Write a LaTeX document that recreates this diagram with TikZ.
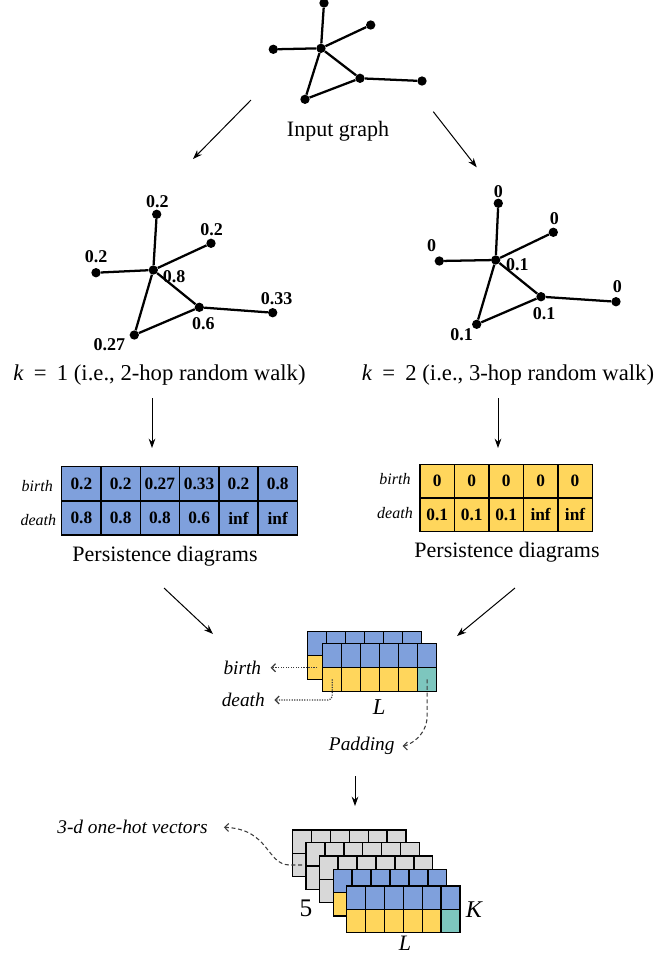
\documentclass[tikz,border=0pt]{standalone}
\usepackage{fontspec}
\setmainfont{Liberation Serif}
\usetikzlibrary{arrows.meta}
\definecolor{cblue}{RGB}{127,160,220}
\definecolor{cyel}{RGB}{255,214,92}
\definecolor{cteal}{RGB}{125,198,190}
\definecolor{cgray}{RGB}{216,216,216}
\definecolor{cdash}{RGB}{60,60,60}
\begin{document}
\begin{tikzpicture}[x=0.75pt,y=-0.75pt,
  vert/.style={circle,fill=black,inner sep=0pt,minimum size=7pt},
  gedge/.style={line width=1.7pt},
  vlab/.style={font=\fontsize{13.5}{15}\selectfont\bfseries,inner sep=0pt},
  flow/.style={-{Stealth[length=7pt,width=5pt]},line width=0.75pt},
  capt/.style={font=\fontsize{16.5}{19}\selectfont,inner sep=0pt},
  kcapt/.style={font=\fontsize{17}{19}\selectfont,inner sep=0pt},
  rowlab/.style={font=\fontsize{12}{14}\selectfont\itshape,inner sep=0pt},
  itlab/.style={font=\fontsize{14.5}{17}\selectfont\itshape,inner sep=0pt},
  cellA/.style={draw,line width=1.1pt,minimum width=29.45pt,minimum height=25.5pt,inner sep=0pt,font=\fontsize{13}{15}\selectfont\bfseries},
  cellB/.style={cellA,minimum width=25.85pt,minimum height=25.1pt},
  mcell/.style={draw,line width=1.1pt,minimum width=14.25pt,minimum height=18pt,inner sep=0pt},
  bcell/.style={draw,line width=1.1pt,minimum width=14.17pt,minimum height=17.5pt,inner sep=0pt},
  dotconn/.style={densely dotted,line width=0.9pt,color=cdash,-{Straight Barb[length=3pt,width=6pt]}},
  dashconn/.style={dash pattern=on 3pt off 2pt,line width=0.8pt,color=cdash,-{Straight Barb[length=3pt,width=6pt]}},
]
\useasboundingbox (0,0) rectangle (663,958);

% ---------- input graph ----------
\node[vert] (T0) at (321,48.3) {};
\node[vert] (T1) at (324,3) {};
\node[vert] (T2) at (370.7,25) {};
\node[vert] (T3) at (273.3,49.3) {};
\node[vert] (T4) at (360,78.3) {};
\node[vert] (T5) at (422,81) {};
\node[vert] (T6) at (305,99.3) {};
\draw[gedge] (T0)--(T1) (T0)--(T2) (T0)--(T3) (T0)--(T4) (T0)--(T6) (T6)--(T4) (T4)--(T5);
\node[capt] (inlab) at (338,131.7) {Input graph};

% ---------- left graph ----------
\node[vert] (L0) at (153.3,270) {};
\node[vert] (L1) at (156.7,214.3) {};
\node[vert] (L2) at (211,243.3) {};
\node[vert] (L3) at (96,272.7) {};
\node[vert] (L4) at (199.3,307.3) {};
\node[vert] (L5) at (272.7,312.7) {};
\node[vert] (L6) at (134.3,335) {};
\draw[gedge] (L0)--(L1) (L0)--(L2) (L0)--(L3) (L0)--(L4) (L0)--(L6) (L6)--(L4) (L4)--(L5);
\node[vlab] (l1) at (157.3,202) {0.2};
\node[vlab] (l2) at (211.7,230) {0.2};
\node[vlab] (l3) at (96,256.7) {0.2};
\node[vlab] (l0) at (174,276.7) {0.8};
\node[vlab] (l4) at (203.3,323.3) {0.6};
\node[vlab] (l5) at (276.7,298.3) {0.33};
\node[vlab] (l6) at (109.3,344.3) {0.27};
\node[kcapt] (k1) at (159.5,375) {\textit{k}\hspace{0.45em}=\hspace{0.45em}1 (i.e., 2-hop random walk)};

% ---------- right graph ----------
\node[vert] (R0) at (495.7,260) {};
\node[vert] (R1) at (498.3,203.3) {};
\node[vert] (R2) at (553.3,232.3) {};
\node[vert] (R3) at (439.3,261) {};
\node[vert] (R4) at (541,296.7) {};
\node[vert] (R5) at (616,301.7) {};
\node[vert] (R6) at (476.7,324.3) {};
\draw[gedge] (R0)--(R1) (R0)--(R2) (R0)--(R3) (R0)--(R4) (R0)--(R6) (R6)--(R4) (R4)--(R5);
\node[vlab] (r1) at (498.3,191.7) {0};
\node[vlab] (r2) at (554.3,218.3) {0};
\node[vlab] (r3) at (431.7,246) {0};
\node[vlab] (r0) at (517.3,265) {0.1};
\node[vlab] (r4) at (544,313.3) {0.1};
\node[vlab] (r5) at (617.3,286.7) {0};
\node[vlab] (r6) at (461.7,335) {0.1};
\node[kcapt] (k2) at (508,375) {\textit{k}\hspace{0.45em}=\hspace{0.45em}2 (i.e., 3-hop random walk)};

% ---------- top arrows ----------
\coordinate (a1s) at (251,100); \coordinate (a1e) at (193,159);
\coordinate (a2s) at (433.3,111.7); \coordinate (a2e) at (476.7,167.3);
\draw[flow] (a1s) -- (a1e);
\draw[flow] (a2s) -- (a2e);
\coordinate (a3s) at (152,398); \coordinate (a3e) at (152,448);
\coordinate (a4s) at (498,398); \coordinate (a4e) at (498,448);
\draw[flow] (a3s) -- (a3e);
\draw[flow] (a4s) -- (a4e);

% ---------- left table ----------
\foreach \v [count=\i] in {0.2,0.2,0.27,0.33,0.2,0.8}
  \node[cellA,fill=cblue] (LB\i) at ({61.7+39.27*(\i-0.5)},483.7) {\v};
\foreach \v [count=\i] in {0.8,0.8,0.8,0.6,inf,inf}
  \node[cellA,fill=cblue] (LD\i) at ({61.7+39.27*(\i-0.5)},517.9) {\v};
\node[rowlab] (lbirth) at (37.3,485.7) {birth};
\node[rowlab] (ldeath) at (38.3,520) {death};
\node[capt] (lpd) at (165,556.7) {Persistence diagrams};

% ---------- right table ----------
\foreach \v [count=\i] in {0,0,0,0,0}
  \node[cellB,fill=cyel] (RB\i) at ({420+34.46*(\i-0.5)},481.1) {\v};
\foreach \v [count=\i] in {0.1,0.1,0.1,inf,inf}
  \node[cellB,fill=cyel] (RD\i) at ({420+34.46*(\i-0.5)},514.7) {\v};
\node[rowlab] (rbirth) at (395,479.3) {birth};
\node[rowlab] (rdeath) at (395,512.7) {death};
\node[capt] (rpd) at (507,552) {Persistence diagrams};

% ---------- arrows to middle ----------
\coordinate (a5s) at (164,588); \coordinate (a5e) at (213,634);
\coordinate (a6s) at (515,588); \coordinate (a6e) at (457,636);
\draw[flow] (a5s) -- (a5e);
\draw[flow] (a6s) -- (a6e);

% ---------- middle stack ----------
\foreach \c in {1,...,6}
  \node[mcell,fill=cblue] (mb-t\c) at ({307.7+19*(\c-0.5)},643.7) {};
\foreach \c in {1,...,5}
  \node[mcell,fill=cyel] (mb-b\c) at ({307.7+19*(\c-0.5)},667.7) {};
\node[mcell,fill=cteal] (mb-b6) at ({307.7+19*5.5},667.7) {};
\foreach \c in {1,...,6}
  \node[mcell,fill=cblue] (mf-t\c) at ({322.7+19*(\c-0.5)},655.3) {};
\foreach \c in {1,...,5}
  \node[mcell,fill=cyel] (mf-b\c) at ({322.7+19*(\c-0.5)},679.3) {};
\node[mcell,fill=cteal] (mf-b6) at ({322.7+19*5.5},679.3) {};

\node[itlab] (mbirth) at (242.3,668.3) {birth};
\node[itlab] (mdeath) at (243.3,700) {death};
\node[itlab] (mpad) at (361.7,746) {Padding};
\node[font=\fontsize{17}{19}\selectfont\itshape,inner sep=0pt] (mL) at (379.3,707.3) {L};
\draw[dotconn,shorten >=7pt] (mb-b1.center) -- (mbirth.east |- mb-b1.center);
\draw[dotconn,shorten >=7pt,rounded corners=3pt] (mf-b1.center) |- (mdeath.east);
\draw[dashconn,shorten >=6pt] (mf-b6.center) -- ++(0,36) .. controls +(0,22) and +(12,0) .. (mpad.east);

% ---------- arrow to bottom ----------
\coordinate (a7s) at (355,776); \coordinate (a7e) at (355,806);
\draw[flow] (a7s) -- (a7e);

% ---------- bottom stack ----------
\foreach \lx/\ly/\ct/\cb/\cl [count=\n] in
  {292.7/830/cgray/cgray/cgray, 306/842.7/cgray/cgray/cgray, 319.3/856/cgray/cgray/cgray,
   333.3/869.3/cblue/cyel/cteal, 346.7/886/cblue/cyel/cteal}{
  \foreach \c in {1,...,6}
    \node[bcell,fill=\ct] (bz\n-t\c) at ({\lx+18.9*(\c-0.5)},{\ly+11.67}) {};
  \foreach \c in {1,...,5}
    \node[bcell,fill=\cb] (bz\n-b\c) at ({\lx+18.9*(\c-0.5)},{\ly+35}) {};
  \node[bcell,fill=\cl] (bz\n-b6) at ({\lx+18.9*5.5},{\ly+35}) {};
}
\node[font=\fontsize{19}{21}\selectfont,inner sep=0pt] (five) at (306,908.3) {5};
\node[font=\fontsize{18}{20}\selectfont\itshape,inner sep=0pt] (bK) at (474,909.3) {K};
\node[font=\fontsize{16.5}{19}\selectfont\itshape,inner sep=0pt] (bL) at (405,943.3) {L};
\node[itlab] (onehot) at (132.5,826.7) {3-d one-hot vectors};
\draw[dashconn,shorten >=12pt] (bz1-b1.center) -- (290,865) .. controls (266,865) and (270,829) .. (onehot.east);
\end{tikzpicture}
\end{document}
